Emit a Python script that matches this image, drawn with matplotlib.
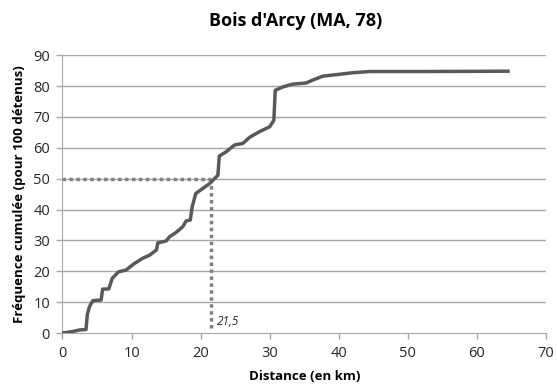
"""Cumulative distance distribution for Bois d'Arcy."""
import matplotlib
matplotlib.use("Agg")
import matplotlib.pyplot as plt

# Distance (km) and cumulative frequency (per 100 detainees)
distance_km = [0.0, 1.5, 2.5, 3.4, 3.6, 3.9, 4.4, 5.6, 5.8, 6.7, 7.2, 8.1, 9.2,
               10.4, 11.6, 12.6, 13.6, 13.8, 15.0, 15.5, 16.4, 17.4, 17.9, 18.5,
               18.8, 19.3, 20.3, 21.3, 22.0, 22.5, 22.7, 23.7, 24.9, 26.1, 27.1,
               28.5, 30.0, 30.6, 30.8, 31.9, 33.3, 35.3, 36.2, 37.7, 40.1, 42.0,
               44.5, 53.2, 64.5]
cumulative_freq = [0.0, 0.5, 1.0, 1.1, 6.0, 8.5, 10.5, 10.7, 14.2, 14.3, 17.7,
                   19.8, 20.4, 22.5, 24.2, 25.2, 26.9, 29.2, 29.8, 31.2, 32.5,
                   34.4, 36.3, 36.6, 41.1, 45.2, 46.8, 48.4, 50.0, 51.1, 57.3,
                   58.7, 60.9, 61.4, 63.4, 65.2, 66.8, 68.9, 78.6, 79.7, 80.6,
                   81.0, 81.9, 83.2, 83.8, 84.3, 84.7, 84.7, 84.8]

median_km = 21.5
median_label = "21,5"
median_level = 50

x_ticks = list(range(0, 71, 10))
y_ticks = list(range(0, 91, 10))

plt.rcParams["font.family"] = ["Open Sans", "DejaVu Sans"]

fig = plt.figure(figsize=(5.57, 3.87), dpi=100)
ax = fig.add_axes([0.1122, 0.1395, 0.868, 0.718])

for y in y_ticks[1:]:
    ax.axhline(y, color="#a6a6a6", linewidth=1.0, zorder=1)

ax.plot([0, median_km], [median_level, median_level], color="#7f7f7f",
        linewidth=2.5, linestyle=(0, (1, 1)), zorder=2)
ax.plot([median_km, median_km], [1.5, median_level], color="#7f7f7f",
        linewidth=2.5, linestyle=(0, (1, 1)), zorder=2)

ax.plot(distance_km, cumulative_freq, color="#595959", linewidth=2.5,
        solid_joinstyle="round", zorder=3)

ax.text(median_km + 0.9, 3.8, median_label, fontsize=8.5, style="italic",
        color="#262626", va="center")

ax.set_xlim(0, 70)
ax.set_ylim(0, 90)
ax.set_xticks(x_ticks)
ax.set_yticks(y_ticks)
ax.tick_params(axis="both", labelsize=10.5, colors="#a6a6a6", labelcolor="#262626",
               length=4, width=1)
ax.tick_params(axis="x", pad=5)
ax.tick_params(axis="y", pad=5)

for side in ["top", "right"]:
    ax.spines[side].set_visible(False)
for side in ["left", "bottom"]:
    ax.spines[side].set_color("#a6a6a6")

ax.set_xlabel("Distance (en km)", fontsize=9.5, fontweight="bold", labelpad=7)
ax.set_ylabel("Fréquence cumulée (pour 100 détenus)", fontsize=9.5,
              fontweight="bold", labelpad=5)
fig.text(0.53, 0.945, "Bois d'Arcy (MA, 78)", fontsize=13, fontweight="bold",
         ha="center", va="center")

fig.savefig("out.png", dpi=100)
